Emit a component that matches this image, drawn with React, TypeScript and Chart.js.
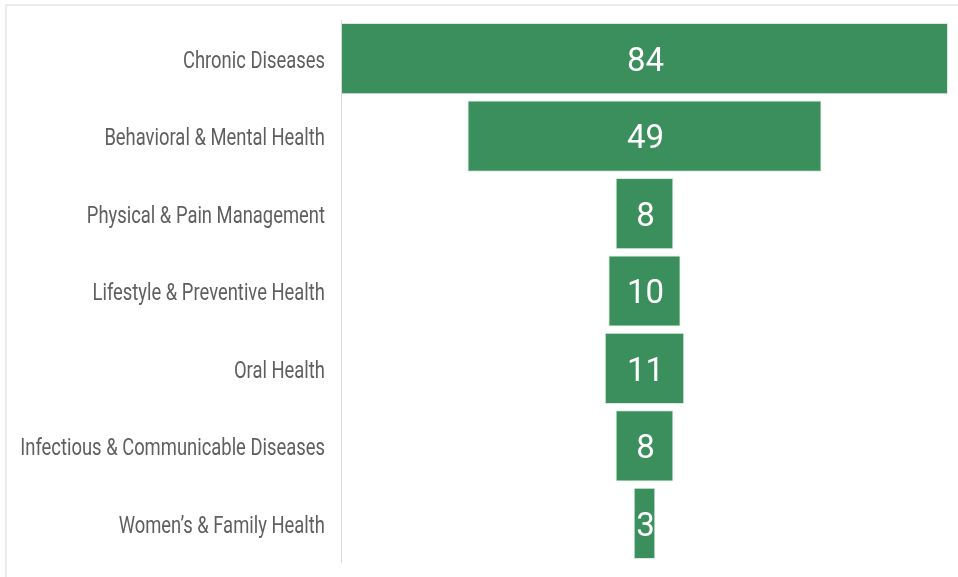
import React, { useEffect, useRef } from "react";
import { Chart, registerables } from "chart.js";

Chart.register(...registerables);

const categories = [
  "Chronic Diseases",
  "Behavioral & Mental Health",
  "Physical & Pain Management",
  "Lifestyle & Preventive Health",
  "Oral Health",
  "Infectious & Communicable Diseases",
  "Women’s & Family Health",
];
const values = [84, 49, 8, 10, 11, 8, 3];
const maxValue = 84;

const barColor = "#3a8f5c";

const valueLabelPlugin = {
  id: "valueLabels",
  afterDatasetsDraw(chart: any) {
    const { ctx } = chart;
    const meta = chart.getDatasetMeta(0);
    ctx.save();
    ctx.fillStyle = "#ffffff";
    ctx.font = "33px Roboto, 'Open Sans', sans-serif";
    ctx.textAlign = "center";
    ctx.textBaseline = "middle";
    meta.data.forEach((bar: any, i: number) => {
      const p = bar.getProps(["x", "base", "y"], true);
      const cx = (p.x + p.base) / 2;
      ctx.fillText(String(values[i]), cx + 1, p.y + 4);
    });
    ctx.restore();
  },
};

const categoryLabelPlugin = {
  id: "categoryLabels",
  afterDraw(chart: any) {
    const { ctx } = chart;
    const yScale = chart.scales.y;
    const right = yScale.right - 16;
    const sx = 0.8;
    ctx.save();
    ctx.fillStyle = "#5f5f5f";
    ctx.font = "23px Roboto, sans-serif";
    ctx.textAlign = "right";
    ctx.textBaseline = "middle";
    categories.forEach((c, i) => {
      const y = yScale.getPixelForValue(i);
      ctx.save();
      ctx.translate(right, y + 3.5);
      ctx.scale(sx, 1);
      ctx.fillText(c, 0, 0);
      ctx.restore();
    });
    ctx.restore();
  },
};

export default function App() {
  const ref = useRef<HTMLCanvasElement>(null);
  useEffect(() => {
    if (!ref.current) return;
    const chart = new Chart(ref.current, {
      type: "bar",
      data: {
        labels: categories,
        datasets: [
          {
            data: values.map((v) => [-v / 2, v / 2]) as any,
            backgroundColor: barColor,
            borderColor: "rgba(200,230,210,0.7)",
            borderWidth: 1,
            borderSkipped: false,
            barPercentage: 0.92,
            categoryPercentage: 1,
          },
        ],
      },
      options: {
        indexAxis: "y",
        animation: false,
        responsive: false,
        maintainAspectRatio: false,
        layout: { padding: { top: 20, bottom: 15, left: 0, right: 10 } },
        plugins: {
          legend: { display: false },
          tooltip: { enabled: false },
        },
        scales: {
          x: {
            display: false,
            min: -maxValue / 2,
            max: maxValue / 2,
          },
          y: {
            afterFit(scale: any) {
              scale.width = 341;
            },
            grid: { display: false, drawTicks: false },
            border: { display: true, color: "#d9d9d9", width: 1 },
            ticks: { display: false },
          },
        },
      },
      plugins: [valueLabelPlugin, categoryLabelPlugin],
    });
    return () => chart.destroy();
  }, []);
  return (
    <div style={{ position: "absolute", left: 0, top: 0, width: 958, height: 577, background: "#fff" }}>
      <div
        style={{
          position: "absolute",
          left: 5,
          top: 4,
          width: 960,
          height: 580,
          borderTop: "2px solid #ececec",
          borderLeft: "2px solid #ececec",
          boxSizing: "border-box",
        }}
      />
      <canvas ref={ref} width={958} height={577} style={{ position: "absolute", left: 0, top: 0 }} />
    </div>
  );
}
